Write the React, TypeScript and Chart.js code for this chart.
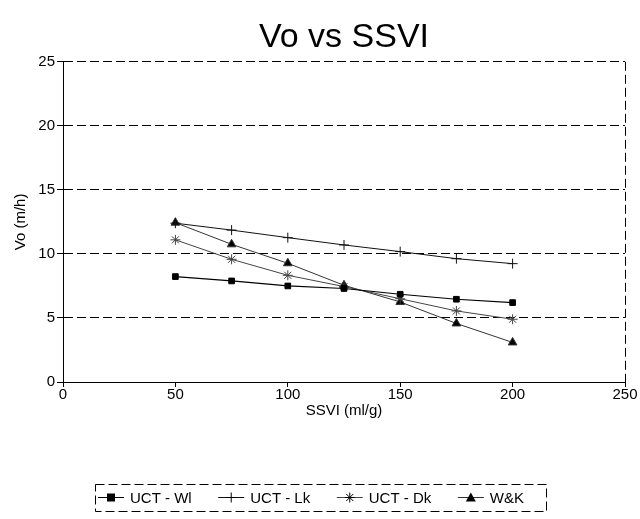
import React, { useEffect, useRef } from "react";
import { Chart, registerables } from "chart.js";

Chart.register(...registerables);

const ssvi = [50, 75, 100, 125, 150, 175, 200];
const uctWl = [8.23, 7.89, 7.5, 7.3, 6.85, 6.46, 6.2];
const uctLk = [12.4, 11.86, 11.27, 10.7, 10.18, 9.63, 9.24];
const uctDk = [11.1, 9.58, 8.33, 7.45, 6.5, 5.55, 4.9];
const wk = [12.44, 10.75, 9.27, 7.55, 6.25, 4.57, 3.09];
const seriesNames = ["UCT - Wl", "UCT - Lk", "UCT - Dk", "W&K"];
const xTicks = [0, 50, 100, 150, 200, 250];
const yTicks = [0, 5, 10, 15, 20, 25];

const FONT = "'Liberation Sans', Arial, sans-serif";
const DASH = [9, 4];

function drawMarker(ctx: CanvasRenderingContext2D, style: string, x: number, y: number, r: number) {
  ctx.save();
  ctx.fillStyle = "#000";
  ctx.strokeStyle = "#000";
  ctx.lineWidth = 1;
  ctx.setLineDash([]);
  ctx.beginPath();
  if (style === "rect") {
    ctx.fillRect(x - r, y - r, 2 * r, 2 * r);
  } else if (style === "cross") {
    ctx.moveTo(x, y - r);
    ctx.lineTo(x, y + r);
    ctx.moveTo(x - r, y);
    ctx.lineTo(x + r, y);
    ctx.stroke();
  } else if (style === "star") {
    for (let i = 0; i < 4; i++) {
      const a = (i * Math.PI) / 4;
      ctx.moveTo(x + r * Math.cos(a), y + r * Math.sin(a));
      ctx.lineTo(x - r * Math.cos(a), y - r * Math.sin(a));
    }
    ctx.stroke();
  } else if (style === "triangle") {
    ctx.moveTo(x, y - r);
    ctx.lineTo(x + r, y + r * 0.8);
    ctx.lineTo(x - r, y + r * 0.8);
    ctx.closePath();
    ctx.fill();
  }
  ctx.restore();
}

const legendPlugin = {
  id: "boxLegend",
  afterDraw(chart: any) {
    const ctx: CanvasRenderingContext2D = chart.ctx;
    const left = 95, right = 546, top = 484, bottom = 511;
    ctx.save();
    ctx.strokeStyle = "#000";
    ctx.lineWidth = 1;
    ctx.setLineDash(DASH);
    ctx.strokeRect(left + 0.5, top + 0.5, right - left, bottom - top);
    ctx.setLineDash([]);
    ctx.font = `15px ${FONT}`;
    ctx.fillStyle = "#000";
    ctx.textBaseline = "middle";
    const cy = (top + bottom) / 2;
    const lineLen = 26, gapAfterMarker = 6;
    const datasets = chart.data.datasets;
    const widths = datasets.map((d: any) => ctx.measureText(d.label).width);
    const content = widths.reduce((a: number, b: number) => a + b, 0) + datasets.length * (lineLen + gapAfterMarker);
    const avail = right - left - 3 - 22;
    const gap = (avail - content) / (datasets.length - 1);
    let x = left + 3;
    datasets.forEach((d: any, i: number) => {
      ctx.strokeStyle = d.borderColor;
      ctx.lineWidth = 1;
      ctx.beginPath();
      ctx.moveTo(x, cy);
      ctx.lineTo(x + lineLen, cy);
      ctx.stroke();
      drawMarker(ctx, d.pointStyle, x + lineLen / 2, cy, d.pointRadius);
      x += lineLen + gapAfterMarker;
      ctx.fillStyle = "#000";
      ctx.fillText(d.label, x, cy + 1);
      x += widths[i] + gap;
    });
    ctx.restore();
  },
};

export default function App() {
  const ref = useRef<HTMLCanvasElement | null>(null);
  useEffect(() => {
    if (!ref.current) return;
    const mk = (vals: number[]) => ssvi.map((x, i) => ({ x, y: vals[i] }));
    const chart = new Chart(ref.current, {
      type: "scatter",
      data: {
        datasets: [
          { label: seriesNames[0], data: mk(uctWl), showLine: true, borderColor: "#000", backgroundColor: "#000", borderWidth: 1.2, pointStyle: "rect", pointRadius: 4, pointBorderWidth: 1 },
          { label: seriesNames[1], data: mk(uctLk), showLine: true, borderColor: "#111", backgroundColor: "#000", borderWidth: 1, pointStyle: "cross", pointRadius: 5, pointBorderWidth: 1 },
          { label: seriesNames[2], data: mk(uctDk), showLine: true, borderColor: "#444", backgroundColor: "#000", borderWidth: 1, pointStyle: "star", pointRadius: 5, pointBorderWidth: 1 },
          { label: seriesNames[3], data: mk(wk), showLine: true, borderColor: "#333", backgroundColor: "#000", borderWidth: 1, pointStyle: "triangle", pointRadius: 5, pointBorderWidth: 1 },
        ] as any,
      },
      options: {
        animation: false,
        responsive: false,
        maintainAspectRatio: false,
        layout: { padding: { left: 0, right: 15, top: 0, bottom: 100 } },
        plugins: {
          legend: { display: false },
          tooltip: { enabled: false },
          title: {
            display: true,
            text: "Vo vs SSVI",
            color: "#000",
            fullSize: false,
            font: { family: FONT, size: 34, weight: "normal", lineHeight: 1.2 },
            padding: { top: 17, bottom: 4 },
          },
        },
        scales: {
          x: {
            type: "linear",
            min: 0,
            max: 250,
            afterBuildTicks: (s: any) => { s.ticks = xTicks.map((v) => ({ value: v })); },
            afterFit: (s: any) => { s.height = 37; },
            ticks: { color: "#000", font: { family: FONT, size: 15, lineHeight: 1.1 }, padding: 0, maxRotation: 0 },
            grid: {
              color: (c: any) => (c.tick && c.tick.value === 250 ? "#000" : "rgba(0,0,0,0)"),
              tickColor: "#000",
              tickLength: 5,
              borderDash: DASH,
            } as any,
            border: { display: true, color: "#000", dash: DASH },
            title: { display: true, text: "SSVI (ml/g)", color: "#000", font: { family: FONT, size: 15, lineHeight: 1.1 }, padding: { top: 1, bottom: 0 } },
          },
          y: {
            type: "linear",
            min: 0,
            max: 25,
            afterBuildTicks: (s: any) => { s.ticks = yTicks.map((v) => ({ value: v })); },
            afterFit: (s: any) => { s.width = 63; },
            ticks: { color: "#000", font: { family: FONT, size: 15 }, padding: 2 },
            grid: { color: "#000", tickColor: "#000", tickLength: 6, borderDash: DASH } as any,
            border: { display: true, color: "#000", dash: DASH },
            title: { display: true, text: "Vo (m/h)", color: "#000", font: { family: FONT, size: 15 }, padding: { top: 12, bottom: 0 } },
          },
        },
      } as any,
      plugins: [legendPlugin],
    });
    return () => chart.destroy();
  }, []);
  return (
    <div style={{ position: "absolute", left: 0, top: 0, width: 640, height: 519, background: "#fff" }}>
      <canvas ref={ref} width={640} height={519} style={{ display: "block", width: 640, height: 519 }} />
    </div>
  );
}
